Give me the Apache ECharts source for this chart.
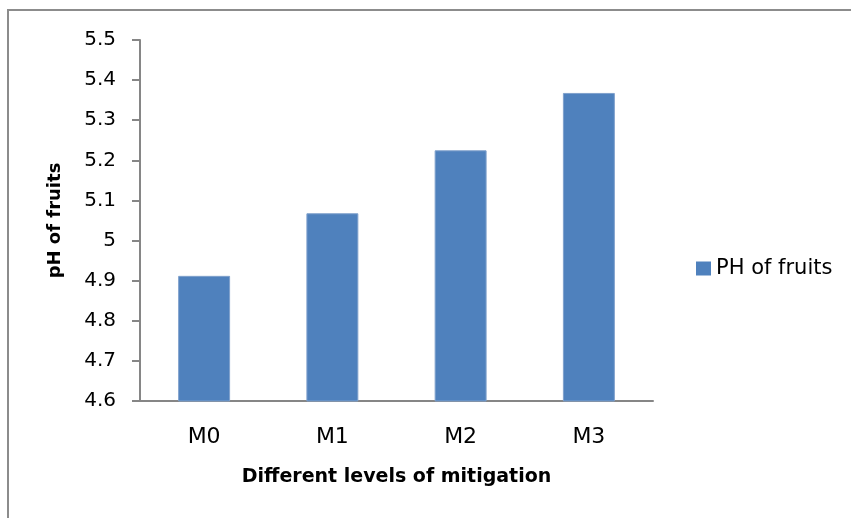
<!DOCTYPE html>
<html>
<head>
<meta charset="utf-8">
<script src="https://cdn.jsdelivr.net/npm/echarts@6/dist/echarts.min.js"></script>
<style>html,body{margin:0;padding:0;background:#fff;}#c{width:851px;height:518px;}</style>
</head>
<body>
<div id="c"></div>
<script>
const categories = ['M0', 'M1', 'M2', 'M3'];
const phValues = [4.912, 5.068, 5.225, 5.368];
const seriesName = 'PH of fruits';
const yMin = 4.6, yMax = 5.5, yStep = 0.1;

const chart = echarts.init(document.getElementById('c'), null, {renderer: 'canvas'});
const font = 'DejaVu Sans';
chart.setOption({
  animation: false,
  backgroundColor: '#ffffff',
  graphic: [{
    type: 'rect', silent: true, z: -1,
    shape: {x: 8, y: 10, width: 900, height: 600},
    style: {fill: 'none', stroke: '#8c8c8c', lineWidth: 2}
  }],
  grid: {left: 140, right: 198, top: 40, bottom: 117, containLabel: false},
  legend: {
    data: [seriesName], left: 691, top: 253, orient: 'vertical',
    itemWidth: 15, itemHeight: 14, itemGap: 7, icon: 'rect',
    itemStyle: {borderWidth: 0},
    textStyle: {fontFamily: font, fontSize: 21, color: '#000'}
  },
  xAxis: {
    type: 'category', data: categories,
    name: 'Different levels of mitigation', nameLocation: 'middle', nameGap: 67,
    nameTextStyle: {fontFamily: font, fontSize: 19, fontWeight: 'bold', color: '#000'},
    axisLine: {lineStyle: {color: '#868686', width: 2}},
    axisTick: {show: false},
    axisLabel: {fontFamily: font, fontSize: 22, color: '#000', margin: 25}
  },
  yAxis: {
    type: 'value', min: yMin, max: yMax, interval: yStep,
    name: 'pH of fruits', nameLocation: 'middle', nameGap: 76, nameRotate: 90,
    nameTextStyle: {fontFamily: font, fontSize: 18, fontWeight: 'bold', color: '#000'},
    axisLine: {show: true, lineStyle: {color: '#868686', width: 2}},
    axisTick: {show: true, length: 8, lineStyle: {color: '#868686', width: 2}},
    splitLine: {show: false},
    axisLabel: {fontFamily: font, fontSize: 20, color: '#000', margin: 24,
      formatter: v => String(Math.round(v * 10) / 10)}
  },
  series: [{
    name: seriesName, type: 'bar', data: phValues, barWidth: '40.5%',
    itemStyle: {color: '#4F81BD', borderColor: '#7FA0CC', borderWidth: 1}
  }]
});
</script>
</body>
</html>
